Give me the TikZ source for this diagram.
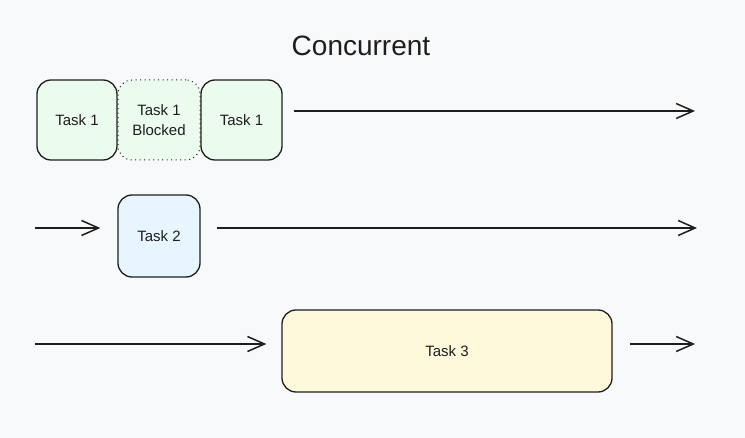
\documentclass[tikz,border=0pt]{standalone}
\usepackage{fontspec}
\setmainfont{Liberation Sans}
\usetikzlibrary{arrows.meta,positioning}
\definecolor{bgpaper}{HTML}{F8F9FA}
\definecolor{inkline}{HTML}{1E1E1E}
\definecolor{taskgreen}{HTML}{EBFBEE}
\definecolor{taskblue}{HTML}{E7F5FF}
\definecolor{taskyellow}{HTML}{FFF9DB}

\begin{document}
\begin{tikzpicture}[x=1pt, y=-1pt,
    task/.style={draw=inkline, line width=1.3pt, rounded corners=14pt, align=center,
        inner sep=0pt, font=\fontsize{15}{20}\selectfont, text=inkline},
    flow/.style={draw=inkline, line width=1.5pt, -{Straight Barb[length=17pt,width=15pt,line width=1.5pt]}}]
    % Paper
    \fill[bgpaper] (0,0) rectangle (745,438);
    \useasboundingbox (0,0) rectangle (745,438);

    % Title
    \node[font=\fontsize{28}{32}\selectfont, text=inkline] (title) at (361,46) {Concurrent};

    % Task 1 with blocked part
    \node[task, fill=taskgreen, minimum width=80pt, minimum height=80pt] (t1a) at (77,120) {Task 1};
    \node[task, fill=taskgreen, line width=1pt, dash pattern=on 1pt off 3.5pt, minimum width=82pt, minimum height=80pt] (t1blk) at (159,120) {Task 1\\Blocked};
    \node[task, fill=taskgreen, minimum width=81pt, minimum height=80pt] (t1b) at (241.5,120) {Task 1};

    % Task 2
    \node[task, fill=taskblue, minimum width=82pt, minimum height=82pt] (t2) at (159,236) {Task 2};

    % Task 3
    \node[task, fill=taskyellow, minimum width=330pt, minimum height=82pt] (t3) at (447,351) {Task 3};

    % Free ends
    \coordinate (in2) at (35,228);
    \coordinate (in3) at (35,344);
    \coordinate (out1) at (695,111);
    \coordinate (out2) at (697,228);
    \coordinate (out3) at (695,344);

    % Arrows
    \draw[flow, shorten <=11pt] (t1b.east |- out1) -- (out1);
    \draw[flow, shorten >=17pt] (in2) -- (t2.west |- in2);
    \draw[flow, shorten <=16pt] (t2.east |- out2) -- (out2);
    \draw[flow, shorten >=15pt] (in3) -- (t3.west |- in3);
    \draw[flow, shorten <=17pt] (t3.east |- out3) -- (out3);
\end{tikzpicture}
\end{document}
